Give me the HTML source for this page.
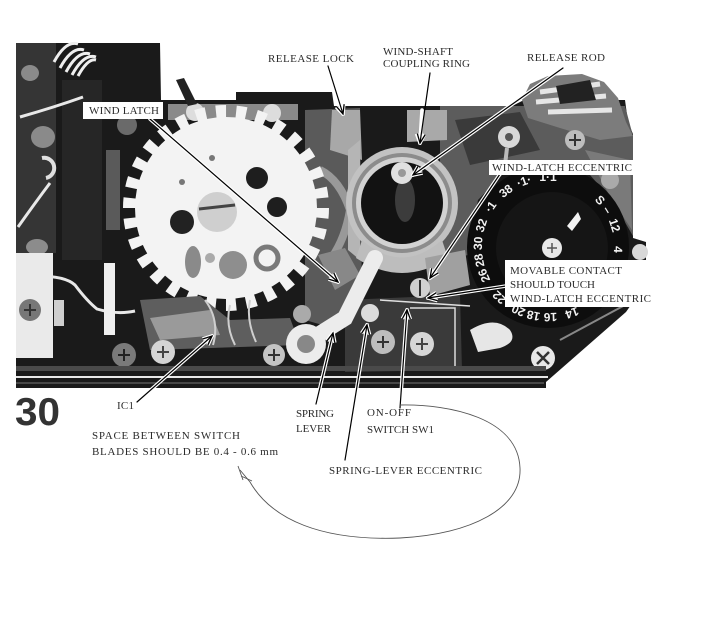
<!DOCTYPE html>
<html><head><meta charset="utf-8">
<style>
html,body{margin:0;padding:0;background:#fff;}
svg{display:block;}
.lb{font-family:"Liberation Serif",serif;font-size:11px;fill:#2b2b2b;}
.dn{font-family:"Liberation Sans Narrow","Liberation Sans",sans-serif;font-size:12px;font-weight:bold;fill:#f2f2f2;}
</style></head><body>
<svg width="715" height="624" viewBox="0 0 715 624" xmlns="http://www.w3.org/2000/svg">
<defs>
<marker id="mb" viewBox="-12 -6 14 12" refX="0" refY="0" markerWidth="14" markerHeight="12" markerUnits="userSpaceOnUse" orient="auto"><path d="M-9,-4 L0,0 L-9,4" fill="none" stroke="#000" stroke-width="1.3"/></marker>
<marker id="mw" viewBox="-12 -6 14 12" refX="0" refY="0" markerWidth="14" markerHeight="12" markerUnits="userSpaceOnUse" orient="auto"><path d="M-9,-4 L0,0 L-9,4" fill="none" stroke="#fff" stroke-width="3.6"/></marker>
</defs>
<rect width="715" height="624" fill="#fff"/>

<!-- main body -->
<path d="M16,43 L160,43 L161,100 L236,100 L236,92 L332,92 L334,106 L512,106 L524,100 L625,100 L628,122 L633,134 L633,238 L646,242 L646,262 L633,266 L633,302 L626,312 L546,382 L546,388 L16,388 Z" fill="#1a1a1a"/>

<!-- gray region around top of dial -->
<path d="M440,106 L625,106 L633,136 L633,236 L612,200 L590,175 L550,165 L505,172 L478,200 L468,255 L440,262 Z" fill="#5c5c5c"/>
<path d="M455,120 L520,112 L540,150 L470,165 Z" fill="#3a3a3a"/>
<path d="M585,150 L630,160 L632,230 L612,200 Z" fill="#7a7a7a"/>

<!-- upper-right mechanism -->
<path d="M522,100 L530,84 L548,76 L582,74 L604,82 L618,98 L626,122 L633,136 L600,140 L560,128 L528,118 Z" fill="#7c7c7c"/>
<path d="M540,92 L600,84 M536,102 L606,96 M548,112 L612,110" stroke="#e6e6e6" stroke-width="5" fill="none"/>
<path d="M556,86 L590,80 L596,100 L560,104 Z" fill="#222"/>
<circle cx="575" cy="140" r="10" fill="#bdbdbd"/><path d="M569,140 h12 M575,134 v12" stroke="#333" stroke-width="2"/>
<circle cx="509" cy="137" r="11" fill="#d8d8d8"/><circle cx="509" cy="137" r="4" fill="#555"/>
<path d="M507,148 L505,165" stroke="#bbb" stroke-width="4"/>
<circle cx="610" cy="180" r="9" fill="#aaa"/>

<!-- left region textures -->
<rect x="16" y="43" width="40" height="210" fill="#353535"/>
<rect x="62" y="80" width="40" height="180" fill="#262626"/>
<g stroke="#eee" stroke-width="3" fill="none">
<path d="M54,62 q12,-22 24,-18"/><path d="M60,68 q12,-22 24,-18"/><path d="M66,72 q12,-22 24,-18"/><path d="M72,75 q12,-22 24,-18"/><path d="M78,76 q10,-18 18,-16"/>
</g>
<g fill="none" stroke="#e8e8e8" stroke-width="3">
<path d="M20,117 q35,-10 63,-20"/>
<path d="M50,183 q-15,20 -32,44"/>
<path d="M17,277 q45,-4 58,8 q12,16 22,24 q20,6 38,2"/>
</g>
<ellipse cx="30" cy="73" rx="9" ry="8" fill="#8a8a8a"/>
<ellipse cx="43" cy="137" rx="12" ry="11" fill="#8a8a8a"/>
<path d="M42,158 a10,10 0 1 1 4,20" fill="none" stroke="#e0e0e0" stroke-width="4"/>
<circle cx="127" cy="125" r="10" fill="#6a6a6a"/>
<ellipse cx="37" cy="247" rx="11" ry="8" fill="#8c8c8c"/>
<rect x="106" y="150" width="14" height="80" fill="#5a5a5a"/>
<rect x="104" y="263" width="11" height="72" fill="#efefef"/>
<rect x="16" y="253" width="37" height="105" fill="#eaeaea"/>
<circle cx="30" cy="310" r="11" fill="#777"/><path d="M24,310 h12 M30,304 v12" stroke="#333" stroke-width="2"/>
<rect x="54" y="300" width="10" height="26" fill="#cfcfcf"/>

<!-- right of gear metallic -->
<path d="M305,110 L360,108 L362,300 L340,330 L305,320 Z" fill="#5a5a5a"/>
<path d="M332,110 L360,110 L362,160 L330,150 Z" fill="#a8a8a8"/>
<path d="M320,170 q20,10 30,40 q-5,30 -20,50" stroke="#999" stroke-width="8" fill="none"/>
<path d="M318,255 L345,248 L360,275 L335,290 Z" fill="#888"/>
<rect x="168" y="104" width="130" height="16" fill="#8a8a8a"/>
<circle cx="195" cy="112" r="9" fill="#ddd"/><circle cx="272" cy="113" r="9" fill="#ddd"/>
<path d="M176,80 L184,78 L197,104 L188,106 Z" fill="#222"/>

<!-- gear -->
<circle cx="226" cy="208" r="91" fill="#f3f3f3"/>
<circle cx="226" cy="208" r="96" fill="none" stroke="#f3f3f3" stroke-width="14" stroke-dasharray="10.05 10.05"/>
<circle cx="217" cy="212" r="20" fill="#cfcfcf"/>
<path d="M199,209 L235,205" stroke="#444" stroke-width="3"/>
<circle cx="182" cy="222" r="12" fill="#222"/>
<circle cx="257" cy="178" r="11" fill="#1e1e1e"/>
<circle cx="277" cy="207" r="10" fill="#1e1e1e"/>
<circle cx="182" cy="182" r="3" fill="#777"/><circle cx="212" cy="158" r="3" fill="#777"/>
<ellipse cx="193" cy="262" rx="8" ry="16" fill="#8a8a8a"/>
<circle cx="233" cy="265" r="14" fill="#8e8e8e"/>
<circle cx="267" cy="258" r="11" fill="none" stroke="#7a7a7a" stroke-width="5"/>
<circle cx="210" cy="258" r="5" fill="#aaa"/>

<!-- bottom middle components -->
<path d="M140,300 L200,296 L230,320 L290,318 L300,345 L150,350 Z" fill="#5e5e5e"/>
<path d="M150,318 L210,310 L220,335 L160,340 Z" fill="#9a9a9a"/>
<path d="M205,300 q15,20 8,45 M230,305 q-5,20 5,40 M250,300 q-4,20 6,42" stroke="#cfcfcf" stroke-width="2" fill="none"/>
<circle cx="124" cy="355" r="12" fill="#7a7a7a"/><path d="M118,355 h12 M124,349 v12" stroke="#222" stroke-width="2"/>
<circle cx="163" cy="352" r="12" fill="#d4d4d4"/><path d="M157,352 h12 M163,346 v12" stroke="#444" stroke-width="2"/>
<circle cx="274" cy="355" r="11" fill="#c4c4c4"/><path d="M268,355 h12 M274,349 v12" stroke="#333" stroke-width="2"/>
<circle cx="302" cy="314" r="9" fill="#aaa"/>

<!-- coupling ring -->
<path d="M407,110 L447,110 L447,140 L407,142 Z" fill="#a9a9a9"/>
<path d="M348,150 L360,140 L360,260 L348,250 Z" fill="#b5b5b5"/>
<circle cx="402" cy="203" r="56" fill="#c2c2c2"/>
<circle cx="402" cy="203" r="50" fill="#8c8c8c"/>
<circle cx="402" cy="203" r="46" fill="#d2d2d2"/>
<circle cx="402" cy="203" r="41" fill="#121212"/>
<ellipse cx="405" cy="200" rx="10" ry="22" fill="#3c3c3c"/>
<circle cx="402" cy="173" r="11" fill="#e0e0e0"/><circle cx="402" cy="173" r="4" fill="#999"/>
<path d="M362,240 q40,35 80,0 L448,258 q-46,30 -92,0 Z" fill="#bdbdbd"/>
<path d="M425,258 L465,250 L470,285 L430,296 Z" fill="#a0a0a0"/>

<!-- lower mechanism / spring lever -->
<path d="M345,300 L460,295 L462,370 L345,372 Z" fill="#3a3a3a"/>
<path d="M410,308 L455,308 L455,368 L412,368" fill="none" stroke="#ddd" stroke-width="1.5"/>
<circle cx="383" cy="342" r="12" fill="#bdbdbd"/><path d="M377,342 h12 M383,336 v12" stroke="#333" stroke-width="2"/>
<circle cx="422" cy="344" r="12" fill="#d6d6d6"/><path d="M416,344 h12 M422,338 v12" stroke="#444" stroke-width="2"/>
<path d="M375,258 L345,318 L310,340" stroke="#ececec" stroke-width="16" fill="none" stroke-linecap="round"/>
<circle cx="306" cy="344" r="20" fill="#ececec"/><circle cx="306" cy="344" r="9" fill="#888"/>
<circle cx="370" cy="313" r="9" fill="#dcdcdc"/>
<circle cx="420" cy="288" r="10" fill="#d0d0d0"/><path d="M420,280 v16" stroke="#333" stroke-width="2"/>
<path d="M380,300 L470,306" stroke="#e0e0e0" stroke-width="1.5"/>

<!-- dial -->
<circle cx="548" cy="247" r="81" fill="#0d0d0d"/>
<circle cx="552" cy="248" r="56" fill="#151515"/>
<circle cx="552" cy="248" r="10" fill="#e8e8e8"/><path d="M547,248 h10 M552,243 v10" stroke="#555" stroke-width="1.5"/>
<polygon points="567,226 578,212 581,219 572,231" fill="#f2f2f2"/>
<g class="dn" text-anchor="middle">
<text transform="translate(548 247) rotate(92) translate(0 -66)">4</text>
<text transform="translate(548 247) rotate(112) translate(0 -66)">8</text>
<text transform="translate(548 247) rotate(138) translate(0 -66)">12</text>
<text transform="translate(548 247) rotate(160) translate(0 -66)">14</text>
<text transform="translate(548 247) rotate(178) translate(0 -66)">16</text>
<text transform="translate(548 247) rotate(192) translate(0 -66)">18</text>
<text transform="translate(548 247) rotate(205) translate(0 -66)">20</text>
<text transform="translate(548 247) rotate(224) translate(0 -66)">22</text>
<text transform="translate(548 247) rotate(246) translate(0 -66)">26</text>
<text transform="translate(548 247) rotate(259) translate(0 -66)">28</text>
<text transform="translate(548 247) rotate(273) translate(0 -66)">30</text>
<text transform="translate(548 247) rotate(288) translate(0 -66)">32</text>
<text transform="translate(548 247) rotate(305) translate(0 -66)">·1</text>
<text transform="translate(548 247) rotate(323) translate(0 -66)">38</text>
<text transform="translate(548 247) rotate(340) translate(0 -66)">·1·</text>
<text transform="translate(548 247) rotate(360) translate(0 -66)">1·1</text>
<text transform="translate(548 247) rotate(408) translate(0 -66)">S</text>
<text transform="translate(548 247) rotate(418) translate(0 -66)">–</text>
<text transform="translate(548 247) rotate(432) translate(0 -66)">12</text>
</g>
<circle cx="640" cy="252" r="8" fill="#d8d8d8"/>
<path d="M470,330 q25,-15 40,0 q8,12 -10,18 L478,352 Z" fill="#e6e6e6"/>
<circle cx="543" cy="358" r="12" fill="#e8e8e8"/><path d="M537,352 l12,12 M549,352 l-12,12" stroke="#333" stroke-width="2.5"/>
<path d="M560,340 L625,305" stroke="#888" stroke-width="2"/>

<!-- bottom strip -->
<rect x="16" y="366" width="530" height="5" fill="#4a4a4a"/>
<path d="M16,377 L548,377" stroke="#e8e8e8" stroke-width="2"/>
<path d="M16,383 L544,383" stroke="#777" stroke-width="1"/>

<!-- connectors on photo -->
<g fill="none" stroke-linecap="round">
<g stroke="#fff" stroke-width="3.6">
<line x1="150" y1="119" x2="338" y2="282" marker-end="url(#mw)"/>
<line x1="338" y1="100" x2="343" y2="114" marker-end="url(#mw)"/>
<line x1="422" y1="110" x2="420" y2="143" marker-end="url(#mw)"/>
<line x1="563" y1="68" x2="413" y2="175" marker-end="url(#mw)"/>
<line x1="500" y1="174" x2="430" y2="278" marker-end="url(#mw)"/>
<line x1="506" y1="286" x2="428" y2="298" marker-end="url(#mw)"/>
<line x1="137" y1="402" x2="212" y2="336" marker-end="url(#mw)"/>
<line x1="316" y1="404" x2="333" y2="333" marker-end="url(#mw)"/>
<line x1="345" y1="460" x2="367" y2="325" marker-end="url(#mw)"/>
<line x1="400" y1="408" x2="407" y2="310" marker-end="url(#mw)"/>
</g>
<g stroke="#000" stroke-width="1.2">
<line x1="150" y1="119" x2="338" y2="282" marker-end="url(#mb)"/>
<line x1="328" y1="66" x2="343" y2="114" marker-end="url(#mb)"/>
<line x1="430" y1="73" x2="420" y2="143" marker-end="url(#mb)"/>
<line x1="563" y1="68" x2="413" y2="175" marker-end="url(#mb)"/>
<line x1="500" y1="174" x2="430" y2="278" marker-end="url(#mb)"/>
<line x1="506" y1="286" x2="428" y2="298" marker-end="url(#mb)"/>
<line x1="137" y1="402" x2="212" y2="336" marker-end="url(#mb)"/>
<line x1="316" y1="404" x2="333" y2="333" marker-end="url(#mb)"/>
<line x1="345" y1="460" x2="367" y2="325" marker-end="url(#mb)"/>
<line x1="400" y1="408" x2="407" y2="310" marker-end="url(#mb)"/>
</g>
</g>

<!-- hand-drawn curve -->
<path d="M400,405 C450,404 518,418 520,468 C522,508 472,534 400,538 C322,541 272,520 250,482 L240,470" fill="none" stroke="#555" stroke-width="0.9"/>
<path d="M238,466 L243,480 M241,476 L252,481" fill="none" stroke="#555" stroke-width="0.9"/>

<!-- label boxes -->
<rect x="83" y="102" width="80" height="17" fill="#fff"/>
<rect x="489" y="160" width="146" height="15" fill="#fff"/>
<rect x="505" y="260" width="148" height="47" fill="#fff"/>

<!-- labels -->
<g class="lb">
<text x="268" y="62" textLength="86" lengthAdjust="spacing">RELEASE LOCK</text>
<text x="383" y="55" textLength="70" lengthAdjust="spacing">WIND-SHAFT</text>
<text x="383" y="67" textLength="87" lengthAdjust="spacing">COUPLING RING</text>
<text x="527" y="61" textLength="78" lengthAdjust="spacing">RELEASE ROD</text>
<text x="89" y="114" textLength="70" lengthAdjust="spacing">WIND LATCH</text>
<text x="492" y="171" textLength="140" lengthAdjust="spacing">WIND-LATCH ECCENTRIC</text>
<text x="510" y="274" textLength="112" lengthAdjust="spacing">MOVABLE CONTACT</text>
<text x="510" y="288" textLength="85" lengthAdjust="spacing">SHOULD TOUCH</text>
<text x="510" y="302" textLength="141" lengthAdjust="spacing">WIND-LATCH ECCENTRIC</text>
<text x="117" y="409" textLength="17" lengthAdjust="spacing">IC1</text>
<text x="92" y="439" textLength="148" lengthAdjust="spacing">SPACE BETWEEN SWITCH</text>
<text x="92" y="455" textLength="186" lengthAdjust="spacing">BLADES SHOULD BE 0.4 - 0.6 mm</text>
<text x="296" y="417" textLength="38" lengthAdjust="spacing">SPRING</text>
<text x="296" y="432" textLength="35" lengthAdjust="spacing">LEVER</text>
<text x="367" y="416" textLength="44" lengthAdjust="spacing">ON-OFF</text>
<text x="367" y="433" textLength="67" lengthAdjust="spacing">SWITCH SW1</text>
<text x="329" y="474" textLength="153" lengthAdjust="spacing">SPRING-LEVER ECCENTRIC</text>
</g>
<text x="15" y="425" font-family="Liberation Sans, sans-serif" font-size="39" font-weight="bold" fill="#333" textLength="45" lengthAdjust="spacingAndGlyphs">30</text>
</svg>
</body></html>
